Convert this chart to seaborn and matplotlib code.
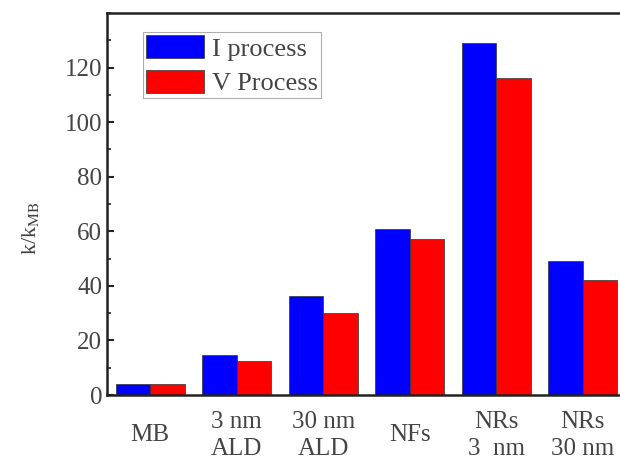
import pandas as pd
import matplotlib
matplotlib.use("Agg")
import matplotlib.pyplot as plt
import seaborn as sns
from matplotlib.ticker import MultipleLocator, FixedLocator

# Data
categories = ["MB", "3 nm\nALD", "30 nm\nALD", "NFs", "NRs\n3  nm", "NRs\n30 nm"]
i_process = [4, 14.7, 36.3, 61, 129, 49]
v_process = [4, 12.5, 30, 57, 116, 42]
series = ["I process", "V Process"]
yticks = [0, 20, 40, 60, 80, 100, 120]

df = pd.DataFrame({
    "cat": categories * 2,
    "val": i_process + v_process,
    "series": [series[0]] * len(categories) + [series[1]] * len(categories),
})

sns.set_style("ticks")
plt.rcParams["font.family"] = ["Liberation Serif", "DejaVu Serif"]
plt.rcParams["mathtext.fontset"] = "stix"

fig = plt.figure(figsize=(6.2, 4.61), dpi=100)
ax = fig.add_axes([0.1726, 0.143, 0.837, 0.829])

sns.barplot(data=df, x="cat", y="val", hue="series", palette=["#0000ff", "#ff0000"],
            width=0.8, edgecolor="#333333", linewidth=0.5, saturation=1, ax=ax)

ax.set_xlim(-0.5, 5.5)
ax.set_ylim(0, 140)
ax.yaxis.set_major_locator(FixedLocator(yticks))
ax.yaxis.set_minor_locator(MultipleLocator(10))
ax.tick_params(axis="y", which="major", direction="in", length=5, width=1.5, labelsize=18,
               colors="#222222", labelcolor="#444444")
ax.tick_params(axis="y", which="minor", direction="in", length=3, width=1.2)
ax.tick_params(axis="x", length=0, labelsize=18, pad=29, labelcolor="#444444")
for lab in ax.get_xticklabels():
    lab.set_verticalalignment("center")
    lab.set_linespacing(1.3)

for sp in ax.spines.values():
    sp.set_linewidth(1.8)
    sp.set_color("#222222")

ax.set_xlabel("")
ax.set_ylabel(r"k/k$_{\mathrm{MB}}$", fontsize=16, color="#444444")
ax.yaxis.set_label_coords(-0.127, 0.437)

leg = ax.legend(loc="upper left", bbox_to_anchor=(0.069, 0.95), fontsize=19,
                frameon=True, fancybox=False, edgecolor="#999999",
                handlelength=2.2, handleheight=0.95, handletextpad=0.3,
                borderpad=0.12, labelspacing=0.35, borderaxespad=0)
leg.get_frame().set_linewidth(0.8)
for t in leg.get_texts():
    t.set_color("#444444")

fig.savefig("out.png", dpi=100)
plt.close(fig)
